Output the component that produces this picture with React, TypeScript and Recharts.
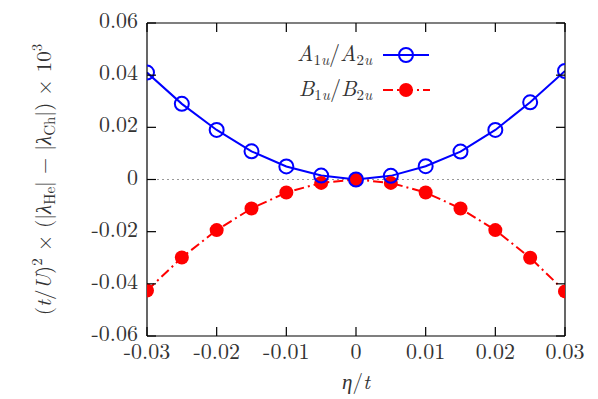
import React from 'react';
import { LineChart, Line, XAxis, YAxis, CartesianGrid, Legend } from 'recharts';

const etaValues = [-0.03, -0.025, -0.02, -0.015, -0.01, -0.005, 0, 0.005, 0.01, 0.015, 0.02, 0.025, 0.03];
const aValues = [0.041, 0.029, 0.019, 0.0108, 0.005, 0.0015, 0, 0.0014, 0.0051, 0.0107, 0.019, 0.0296, 0.0416];
const bValues = [-0.0426, -0.0299, -0.0194, -0.0111, -0.005, -0.0013, 0, -0.0013, -0.005, -0.0111, -0.0194, -0.03, -0.0429];

const xTicks = [-0.03, -0.02, -0.01, 0, 0.01, 0.02, 0.03];
const xTickLabels = ['-0.03', '-0.02', '-0.01', '0', '0.01', '0.02', '0.03'];
const yTicks = [-0.06, -0.04, -0.02, 0, 0.02, 0.04, 0.06];
const yTickLabels = ['-0.06', '-0.04', '-0.02', '0', '0.02', '0.04', '0.06'];

const data = etaValues.map((x, i) => ({ x, a: aValues[i], b: bValues[i] }));

const FONT = 'Latin Modern Roman';
const TXT = '#333';
const TICK = 9;

const labelFor = (v: number, ticks: number[], labels: string[]) => {
  const i = ticks.findIndex((t) => Math.abs(t - v) < 1e-9);
  return i >= 0 ? labels[i] : String(v);
};

const BottomTick = (props: any) => {
  const { x, y, payload } = props;
  return (
    <g>
      <line x1={x} y1={y} x2={x} y2={y - TICK} stroke="#000" strokeWidth={1.2} />
      <text x={x} y={y + 23} textAnchor="middle" fontFamily={FONT} fontSize={22} fill={TXT}>
        {labelFor(payload.value, xTicks, xTickLabels)}
      </text>
    </g>
  );
};

const TopTick = (props: any) => {
  const { x, y } = props;
  return <line x1={x} y1={y} x2={x} y2={y + TICK} stroke="#000" strokeWidth={1.2} />;
};

const LeftTick = (props: any) => {
  const { x, y, payload } = props;
  return (
    <g>
      <line x1={x} y1={y} x2={x + TICK} y2={y} stroke="#000" strokeWidth={1.2} />
      <text x={x - 9} y={y + 5} textAnchor="end" fontFamily={FONT} fontSize={22} fill={TXT}>
        {labelFor(payload.value, yTicks, yTickLabels)}
      </text>
    </g>
  );
};

const RightTick = (props: any) => {
  const { x, y } = props;
  return <line x1={x} y1={y} x2={x - TICK} y2={y} stroke="#000" strokeWidth={1.2} />;
};

const XLabel = (props: any) => {
  const vb = props.viewBox || { x: 147, y: 336, width: 418, height: 63 };
  const cx = vb.x + vb.width / 2;
  const cy = vb.y + 53;
  return (
    <text x={cx} y={cy} textAnchor="middle" fontFamily={FONT} fontSize={21} fill={TXT}>
      <tspan fontStyle="italic">η</tspan>
      <tspan>/</tspan>
      <tspan fontStyle="italic">t</tspan>
    </text>
  );
};

const YLabel = (props: any) => {
  const vb = props.viewBox || { x: 0, y: 23, width: 147, height: 313 };
  const cx = vb.x + 51;
  const cy = vb.y + vb.height / 2;
  return (
    <text
      transform={`translate(${cx},${cy}) rotate(-90)`}
      x={0}
      y={0}
      textAnchor="middle"
      fontFamily={FONT}
      fontSize={21}
      fill={TXT}
    >
      <tspan>(</tspan>
      <tspan fontStyle="italic">t</tspan>
      <tspan>/</tspan>
      <tspan fontStyle="italic">U</tspan>
      <tspan>)</tspan>
      <tspan fontSize={15} dy={-9}>2</tspan>
      <tspan dy={9}> × (|</tspan>
      <tspan fontStyle="italic">λ</tspan>
      <tspan fontSize={15} dy={4}>He</tspan>
      <tspan dy={-4}>| − |</tspan>
      <tspan fontStyle="italic">λ</tspan>
      <tspan fontSize={15} dy={4}>Ch</tspan>
      <tspan dy={-4}>|) × 10</tspan>
      <tspan fontSize={15} dy={-9}>3</tspan>
    </text>
  );
};

const LegendBox = () => (
  <svg width={160} height={70} style={{ display: 'block', overflow: 'visible' }}>
    <text x={92} y={26} textAnchor="end" fontFamily={FONT} fontSize={22} fill={TXT}>
      <tspan fontStyle="italic">A</tspan>
      <tspan fontSize={15} dy={4}>1</tspan>
      <tspan fontSize={15} fontStyle="italic">u</tspan>
      <tspan dy={-4}>/</tspan>
      <tspan fontStyle="italic">A</tspan>
      <tspan fontSize={15} dy={4}>2</tspan>
      <tspan fontSize={15} fontStyle="italic">u</tspan>
    </text>
    <line x1={103} y1={20} x2={149} y2={20} stroke="#0000ff" strokeWidth={2} />
    <circle cx={126} cy={20} r={7} fill="none" stroke="#0000ff" strokeWidth={2} />
    <text x={92} y={61} textAnchor="end" fontFamily={FONT} fontSize={22} fill={TXT}>
      <tspan fontStyle="italic">B</tspan>
      <tspan fontSize={15} dy={4}>1</tspan>
      <tspan fontSize={15} fontStyle="italic">u</tspan>
      <tspan dy={-4}>/</tspan>
      <tspan fontStyle="italic">B</tspan>
      <tspan fontSize={15} dy={4}>2</tspan>
      <tspan fontSize={15} fontStyle="italic">u</tspan>
    </text>
    <line x1={103} y1={55} x2={150} y2={55} stroke="#ff0000" strokeWidth={2} strokeDasharray="10 4 2 4" />
    <circle cx={126} cy={55} r={7} fill="#ff0000" />
  </svg>
);

export default function App() {
  return (
    <div style={{ position: 'absolute', left: 0, top: 0, width: 598, height: 399, background: '#fff' }}>
      <LineChart width={598} height={399} data={data} margin={{ top: 0, right: 0, bottom: 0, left: 0 }}>
        <CartesianGrid horizontal={true} vertical={false} horizontalValues={[0]} stroke="#999" strokeDasharray="2 3" strokeWidth={1} />
        <XAxis
          dataKey="x"
          type="number"
          domain={[-0.03, 0.03]}
          ticks={xTicks}
          interval={0}
          height={63}
          tickSize={0}
          tickMargin={0}
          tickLine={false}
          axisLine={{ stroke: '#000', strokeWidth: 1.2 }}
          tick={<BottomTick />}
          label={{ content: (p: any) => <XLabel {...p} /> }}
          allowDataOverflow
        />
        <XAxis
          xAxisId="top"
          orientation="top"
          dataKey="x"
          type="number"
          domain={[-0.03, 0.03]}
          ticks={xTicks}
          interval={0}
          height={23}
          tickSize={0}
          tickMargin={0}
          tickLine={false}
          axisLine={{ stroke: '#000', strokeWidth: 1.2 }}
          tick={<TopTick />}
          allowDataOverflow
        />
        <YAxis
          type="number"
          domain={[-0.06, 0.06]}
          ticks={yTicks}
          interval={0}
          width={147}
          tickSize={0}
          tickMargin={0}
          tickLine={false}
          axisLine={{ stroke: '#000', strokeWidth: 1.2 }}
          tick={<LeftTick />}
          label={{ content: (p: any) => <YLabel {...p} /> }}
          allowDataOverflow
        />
        <YAxis
          yAxisId="right"
          orientation="right"
          type="number"
          domain={[-0.06, 0.06]}
          ticks={yTicks}
          interval={0}
          width={33}
          tickSize={0}
          tickMargin={0}
          tickLine={false}
          axisLine={{ stroke: '#000', strokeWidth: 1.2 }}
          tick={<RightTick />}
          allowDataOverflow
        />
        <Legend
          layout="vertical"
          align="center"
          verticalAlign="middle"
          wrapperStyle={{ position: 'absolute', left: 280, top: 35, width: 160, height: 70 }}
          content={() => <LegendBox />}
        />
        <Line
          dataKey="b"
          name="B1u/B2u"
          type="linear"
          stroke="#ff0000"
          strokeWidth={2}
          strokeDasharray="10 4 2 4"
          dot={{ r: 7, fill: '#ff0000', stroke: 'none' }}
          activeDot={false}
          isAnimationActive={false}
        />
        <Line
          dataKey="a"
          name="A1u/A2u"
          type="linear"
          stroke="#0000ff"
          strokeWidth={2}
          dot={{ r: 7, fill: 'none', stroke: '#0000ff', strokeWidth: 2 }}
          activeDot={false}
          isAnimationActive={false}
        />
      </LineChart>
    </div>
  );
}
